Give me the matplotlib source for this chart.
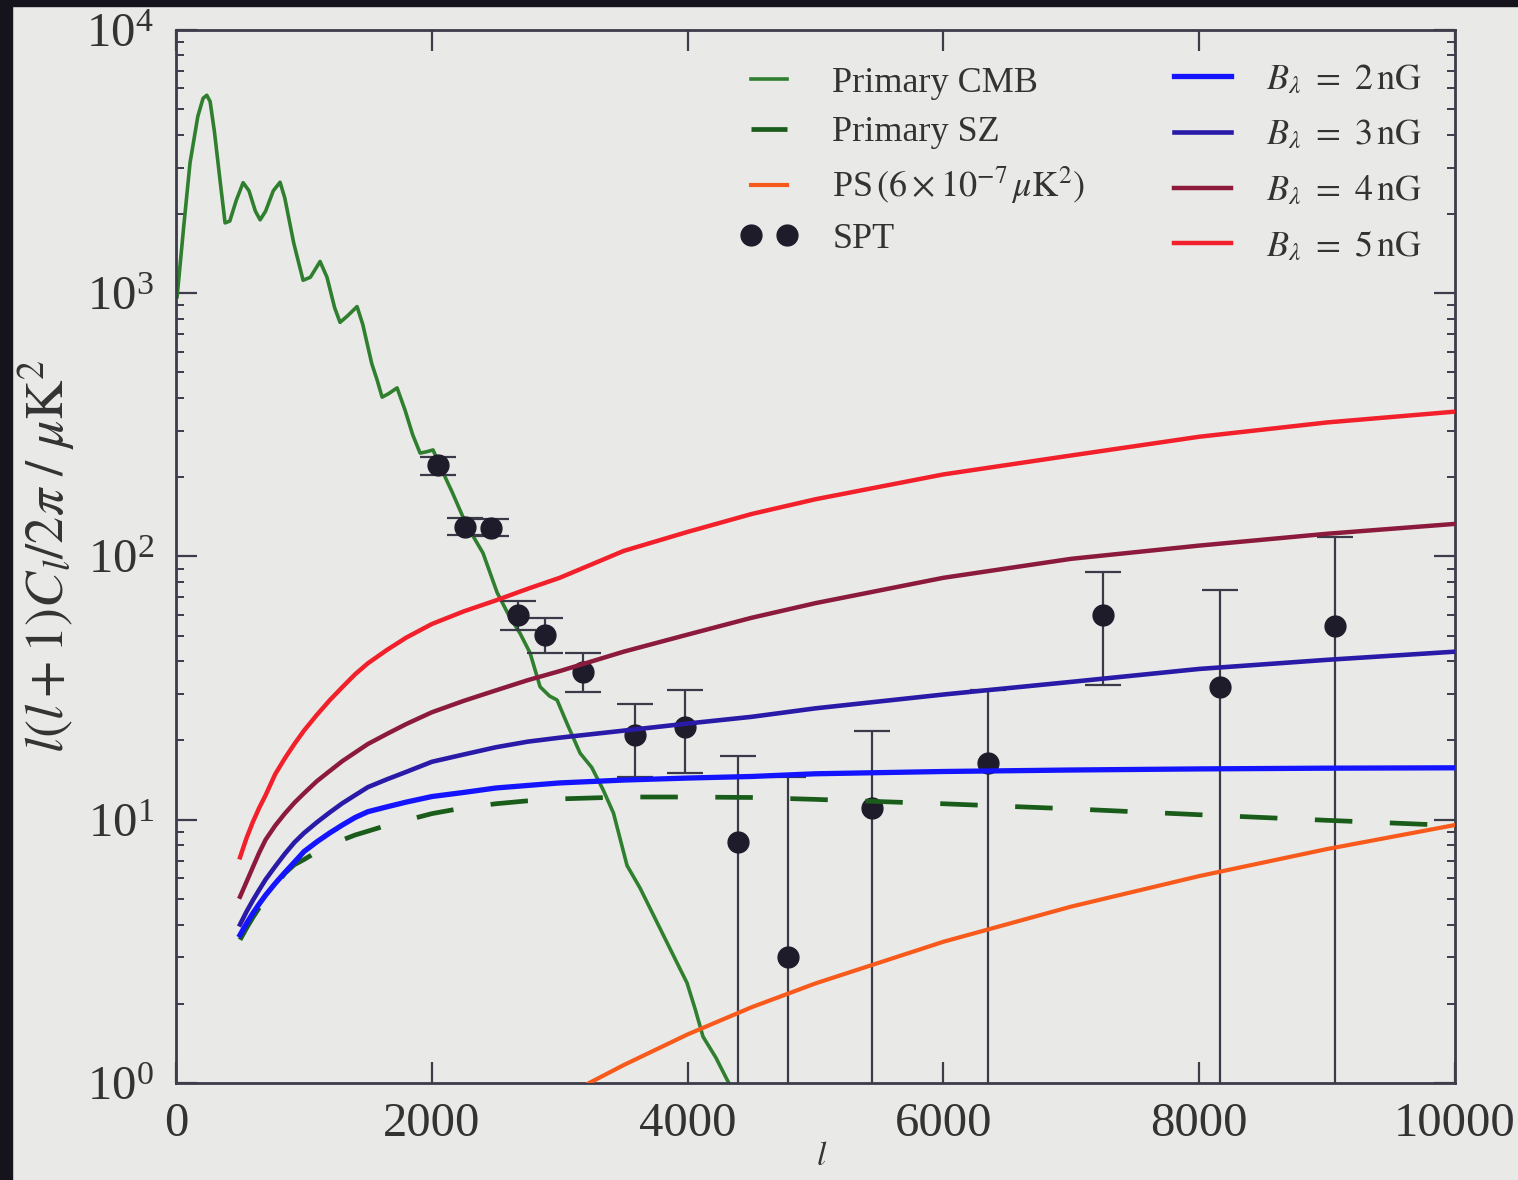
import matplotlib
matplotlib.use('Agg')
import matplotlib.pyplot as plt
from matplotlib.patches import Rectangle
from matplotlib.lines import Line2D

plt.rcParams['font.family'] = ['Liberation Serif', 'DejaVu Serif']
plt.rcParams['mathtext.fontset'] = 'stix'
plt.rcParams['lines.scale_dashes'] = False

# primary CMB spectrum
ell_cmb = [8, 60, 109, 170, 211, 240, 266, 300, 345, 383, 420, 470, 524, 570, 620,
           657, 700, 760, 813, 850, 920, 993, 1050, 1126, 1180, 1240, 1282, 1340,
           1415, 1460, 1530, 1572, 1611, 1660, 1728, 1790, 1850, 1908, 1960, 2009,
           2088, 2160, 2244, 2320, 2400, 2510, 2600, 2690, 2768, 2846, 2920, 2979,
           3060, 3159, 3250, 3339, 3420, 3526, 3628, 3780, 3917, 3995, 4060, 4120,
           4220, 4308, 4400]
dl_cmb = [970, 1800, 3130, 4700, 5500, 5650, 5350, 4100, 2650, 1850, 1880, 2250,
          2630, 2450, 2050, 1900, 2050, 2450, 2640, 2300, 1550, 1120, 1150, 1320,
          1150, 880, 775, 820, 890, 760, 540, 468, 403, 415, 437, 360, 290, 247, 250,
          254, 208, 175, 141, 120, 103, 73, 60, 51, 43, 32, 29.5, 28.5, 23, 17.9,
          15.8, 13, 10.6, 6.7, 5.5, 3.9, 2.86, 2.4, 1.9, 1.5, 1.25, 1.03, 0.85]

# model curves
ell_mod = [500, 550, 600, 650, 700, 775, 850, 925, 1000, 1100, 1200, 1300, 1400,
           1500, 1650, 1800, 2000, 2250, 2500, 2750, 3000, 3500, 4000, 4500, 5000,
           6000, 7000, 8000, 9000, 10000]
dl_sz = [3.5, 3.87, 4.25, 4.63, 5.0, 5.6, 6.25, 6.75, 7.06, 7.55, 7.99, 8.38, 8.75,
         9.05, 9.53, 9.95, 10.55, 11.1, 11.5, 11.8, 12.0, 12.2, 12.2, 12.15, 11.95,
         11.5, 11.0, 10.45, 9.95, 9.5]
dl_b2 = [3.65, 4.03, 4.41, 4.79, 5.17, 5.73, 6.3, 6.9, 7.57, 8.24, 8.9, 9.55, 10.2,
         10.73, 11.2, 11.67, 12.25, 12.7, 13.2, 13.5, 13.8, 14.15, 14.4, 14.6, 14.95,
         15.25, 15.45, 15.6, 15.7, 15.75]
dl_b3 = [4.0, 4.47, 4.94, 5.42, 5.93, 6.65, 7.42, 8.2, 8.9, 9.77, 10.65, 11.55, 12.4,
         13.3, 14.25, 15.2, 16.6, 17.7, 18.85, 19.8, 20.5, 21.8, 23.2, 24.6, 26.5,
         29.9, 33.4, 37.4, 40.5, 43.5]
dl_b4 = [5.1, 5.8, 6.6, 7.5, 8.4, 9.5, 10.55, 11.6, 12.6, 14.0, 15.3, 16.7, 18.0,
         19.4, 21.2, 23.1, 25.6, 28.3, 31.0, 33.9, 36.7, 43.5, 50.5, 58.5, 66.5,
         83.0, 98.0, 110.0, 122.0, 133.0]
dl_b5 = [7.2, 8.5, 9.8, 11.1, 12.4, 14.9, 17.1, 19.4, 21.8, 25.0, 28.4, 31.9, 35.7,
         39.3, 44.2, 49.2, 55.4, 61.9, 68.1, 75.4, 83.0, 105.0, 124.0, 145.0, 165.0,
         205.0, 242.0, 285.0, 323.0, 355.0]

ell_ps = [3000, 3230, 3500, 4000, 4500, 5000, 6000, 7000, 8000, 9000, 10000]
dl_ps = [0.86, 1.0, 1.17, 1.53, 1.94, 2.39, 3.44, 4.68, 6.11, 7.74, 9.55]

# SPT band powers (lower bound 0.1 = error bar runs off the bottom)
spt_l = [2048, 2260, 2460, 2674, 2885, 3182, 3589, 3980, 4394, 4785, 5442, 6349, 7248, 8163, 9062]
spt_d = [223, 129, 128, 60, 50.3, 36.4, 21, 22.5, 8.2, 3.0, 11.1, 16.4, 60, 31.9, 54.5]
spt_hi = [239, 140, 139, 67.8, 58.4, 43, 27.5, 31.1, 17.5, 14.5, 21.7, 31, 87.3, 74.6, 118.6]
spt_lo = [204, 121, 120, 52.6, 43, 30.6, 14.5, 15.1, 0.1, 0.1, 0.1, 0.1, 32.5, 0.1, 0.1]

bg = '#e9eae7'
txt = '#333333'
fig = plt.figure(figsize=(15.18, 11.8), dpi=100, facecolor=bg)
ax = fig.add_axes([0.116, 0.0822, 0.8425, 0.8924], facecolor=bg)

l_cmb, = ax.plot(ell_cmb, dl_cmb, color='#2f7f2f', lw=2.6, zorder=2)
l_sz, = ax.plot(ell_mod, dl_sz, color='#1a5c1a', lw=3.4, dashes=(27, 27), zorder=3)
l_ps, = ax.plot(ell_ps, dl_ps, color='#f85a1c', lw=3.0, zorder=3)

yerr = [[d - lo for d, lo in zip(spt_d, spt_lo)], [hi - d for d, hi in zip(spt_d, spt_hi)]]
eb = ax.errorbar(spt_l, spt_d, yerr=yerr, fmt='o', color='#1e1b2a', ms=15,
                 ecolor='#3a3a48', elinewidth=1.6, capsize=13, capthick=1.6, zorder=2.5)

l_b2, = ax.plot(ell_mod, dl_b2, color='#1414ff', lw=3.8, zorder=4)
l_b3, = ax.plot(ell_mod, dl_b3, color='#2a1aa8', lw=3.3, zorder=4)
l_b4, = ax.plot(ell_mod, dl_b4, color='#8c1a3c', lw=3.2, zorder=4)
l_b5, = ax.plot(ell_mod, dl_b5, color='#f2202a', lw=3.2, zorder=4)

ax.set_yscale('log')
ax.set_xlim(0, 10000)
ax.set_ylim(1, 1e4)
ax.set_xticks([0, 2000, 4000, 6000, 8000, 10000])

for s in ax.spines.values():
    s.set_color('#3c3c4a')
    s.set_linewidth(2)
ax.tick_params(which='both', direction='in', top=True, right=True, color='#3c3c4a')
ax.tick_params(which='major', length=15, width=1.6, labelsize=35, pad=14, labelcolor=txt)
ax.tick_params(which='minor', length=6, width=1.4)
ax.tick_params(axis='y', which='major', pad=16)

ax.set_ylabel(r'$l(l+1)C_l/2\pi\ /\ \mu\mathrm{K}^2$', fontsize=39, color=txt)
ax.yaxis.set_label_coords(-0.077, 0.5)
ax.set_xlabel(r'$l$', fontsize=24, color=txt)
ax.xaxis.set_label_coords(0.505, -0.056)

spt_handle = Line2D([], [], ls='none', marker='o', ms=15, color='#1e1b2a')
sz_handle = Line2D([], [], color='#1a5c1a', lw=3.4, dashes=(40, 40))
leg1 = ax.legend([l_cmb, sz_handle, l_ps, spt_handle],
                 ['Primary CMB', 'Primary SZ', r'PS$\,(6\times10^{-7}\,\mu\mathrm{K}^2)$', 'SPT'],
                 loc='upper left', bbox_to_anchor=(0.441, 0.965), frameon=False, fontsize=26,
                 handlelength=1.6, handletextpad=0.95, labelspacing=0.44, numpoints=2,
                 borderpad=0, borderaxespad=0, labelcolor=txt)
ax.add_artist(leg1)
ax.legend([l_b2, l_b3, l_b4, l_b5],
          [r'$B_\lambda\ =\ 2\,\mathrm{nG}$', r'$B_\lambda\ =\ 3\,\mathrm{nG}$',
           r'$B_\lambda\ =\ 4\,\mathrm{nG}$', r'$B_\lambda\ =\ 5\,\mathrm{nG}$'],
          loc='upper left', bbox_to_anchor=(0.78, 0.968), frameon=False, fontsize=26,
          handlelength=1.6, handletextpad=0.95, labelspacing=0.62,
          borderpad=0, borderaxespad=0, labelcolor=txt)

# dark screen edges of the photo
fig.patches.append(Rectangle((0, 0), 0.008, 1, transform=fig.transFigure, color='#15131c', zorder=10))
fig.patches.append(Rectangle((0, 0.995), 1, 0.005, transform=fig.transFigure, color='#15131c', zorder=10))

fig.savefig('out.png', dpi=100, facecolor=bg)
